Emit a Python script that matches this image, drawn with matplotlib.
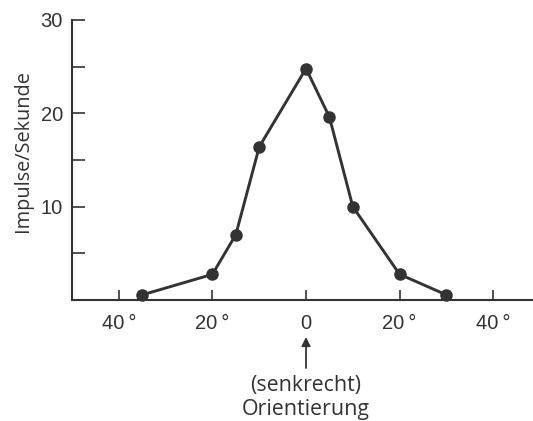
import os
import matplotlib
matplotlib.use('Agg')
import matplotlib.pyplot as plt
import matplotlib.transforms as mtransforms
from matplotlib import font_manager as fm

# orientation (degrees) and response (impulses per second)
angles = [-35, -20, -15, -10, 0, 5, 10, 20, 30]
rates = [0.55, 2.75, 7.0, 16.4, 24.8, 19.6, 10.0, 2.75, 0.55]

xticks = [-40, -20, 0, 20, 40]
xticklabels = ['40\u2009°', '20\u2009°', '0', '20\u2009°', '40\u2009°']
yticks = [10, 20, 30]
yminor = [5, 15, 25]

ink = '#333333'


def font(filename, family, size):
    # pick the exact file so that narrow/condensed cuts are never chosen
    for path in fm.findSystemFonts():
        if os.path.basename(path).lower() == filename.lower():
            return fm.FontProperties(fname=path, size=size)
    return fm.FontProperties(family=family, size=size)


tick_font = font('LiberationSans-Regular.ttf', 'Liberation Sans', 14.5)
label_font = font('OpenSans-Regular.ttf', 'Open Sans', 14.3)
text_font = font('OpenSans-Regular.ttf', 'Open Sans', 15.4)

fig = plt.figure(figsize=(5.33, 4.21), dpi=100)
ax = fig.add_axes([0.1351, 0.2874, 0.8649, 0.6651])

ax.plot(angles, rates, color=ink, lw=2.1, marker='o', ms=8,
        mfc=ink, mec=ink, clip_on=False, zorder=3)

ax.set_xlim(-50, 48.5)
ax.set_ylim(0, 30)

for side in ['top', 'right']:
    ax.spines[side].set_visible(False)
for side in ['left', 'bottom']:
    ax.spines[side].set_color(ink)
    ax.spines[side].set_linewidth(1.5)

ax.set_xticks(xticks)
ax.set_xticklabels(xticklabels, fontproperties=tick_font, color=ink)
ax.set_yticks(yticks)
ax.set_yticks(yminor, minor=True)
ax.set_yticklabels([str(v) for v in yticks], fontproperties=tick_font, color=ink)

ax.tick_params(axis='x', direction='in', length=7.5, width=1.2, color=ink, pad=10)
ax.tick_params(axis='y', which='both', direction='in', length=9, width=1.2, color=ink, pad=6.5)

ax.set_ylabel('Impulse/Sekunde', fontproperties=label_font, color=ink)
ax.yaxis.set_label_coords(-0.085, 0.532)

# arrow and label under the zero mark
trans = mtransforms.blended_transform_factory(ax.transData, fig.transFigure)
ax.annotate('', xy=(0, 1 - 337 / 421), xytext=(0, 1 - 368 / 421),
            xycoords=trans, textcoords=trans,
            arrowprops=dict(arrowstyle='-|>', color=ink, lw=1.3,
                            mutation_scale=13, shrinkA=0, shrinkB=0))
ax.text(0, 1 - 385 / 421, '(senkrecht)', transform=trans, ha='center', va='center',
        fontproperties=text_font, color=ink)
ax.text(0, 1 - 409 / 421, 'Orientierung', transform=trans, ha='center', va='center',
        fontproperties=text_font, color=ink)

fig.savefig('out.png', dpi=100, facecolor='white')
